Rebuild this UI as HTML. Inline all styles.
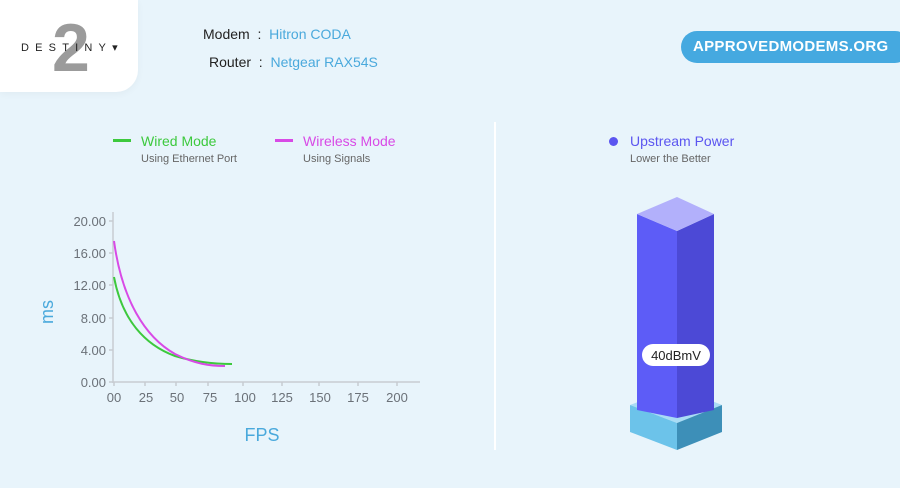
<!DOCTYPE html>
<html><head><meta charset="utf-8"><style>
body{margin:0;width:900px;height:488px;background:#e8f4fb;font-family:"Liberation Sans",sans-serif;overflow:hidden;position:relative}
.a{position:absolute;white-space:nowrap}
</style></head><body>
<div class="a" style="left:0;top:0;width:138px;height:92px;background:#fff;border-bottom-right-radius:22px;box-shadow:0 2px 8px rgba(0,0,0,0.04)"></div>
<div class="a" style="left:52px;top:14px;font-size:68px;font-weight:bold;color:#9b9b9b;line-height:68px">2</div>
<div class="a" style="left:21px;top:41px;font-size:11px;letter-spacing:6.2px;color:#222">DESTINY<span style="letter-spacing:0">▾</span></div>
<div class="a" style="left:203px;top:26px;font-size:14px;color:#222">Modem&nbsp; :&nbsp; <span style="color:#4aa9dc">Hitron CODA</span></div>
<div class="a" style="left:209px;top:54px;font-size:14px;color:#222">Router&nbsp; :&nbsp; <span style="color:#4aa9dc">Netgear RAX54S</span></div>
<div class="a" style="left:681px;top:31px;width:230px;height:32px;background:#45a9e0;border-radius:16px"></div>
<div class="a" style="left:693px;top:38px;font-size:15px;font-weight:bold;color:#fff;letter-spacing:0.3px">APPROVEDMODEMS.ORG</div>

<div class="a" style="left:113px;top:139px;width:18px;height:3px;background:#3dc93d"></div>
<div class="a" style="left:141px;top:133px;font-size:14px;color:#3dc93d">Wired Mode</div>
<div class="a" style="left:141px;top:153px;font-size:11px;color:#666">Using Ethernet Port</div>
<div class="a" style="left:275px;top:139px;width:18px;height:3px;background:#d84ae6"></div>
<div class="a" style="left:303px;top:133px;font-size:14px;color:#d84ae6">Wireless Mode</div>
<div class="a" style="left:303px;top:153px;font-size:11px;color:#666">Using Signals</div>

<div class="a" style="left:609px;top:137px;width:9px;height:9px;border-radius:50%;background:#5b55f0"></div>
<div class="a" style="left:630px;top:133px;font-size:14px;color:#5b55f0">Upstream Power</div>
<div class="a" style="left:630px;top:153px;font-size:11px;color:#666">Lower the Better</div>

<div class="a" style="left:494px;top:122px;width:2px;height:328px;background:#fff"></div>

<svg class="a" style="left:0;top:0" width="900" height="488">
<g stroke="#c7ccd2" stroke-width="1.5" fill="none">
<line x1="113" y1="212" x2="113" y2="383"/>
<line x1="113" y1="382" x2="420" y2="382"/>
<g>
<line x1="109" y1="221" x2="113" y2="221"/><line x1="109" y1="253" x2="113" y2="253"/><line x1="109" y1="285" x2="113" y2="285"/><line x1="109" y1="318" x2="113" y2="318"/><line x1="109" y1="350" x2="113" y2="350"/><line x1="109" y1="382" x2="113" y2="382"/>
<line x1="114" y1="382" x2="114" y2="386"/><line x1="145" y1="382" x2="145" y2="386"/><line x1="176" y1="382" x2="176" y2="386"/><line x1="208" y1="382" x2="208" y2="386"/><line x1="243" y1="382" x2="243" y2="386"/><line x1="282" y1="382" x2="282" y2="386"/><line x1="319" y1="382" x2="319" y2="386"/><line x1="358" y1="382" x2="358" y2="386"/><line x1="397" y1="382" x2="397" y2="386"/>
</g></g>
<g font-size="13" fill="#6b7178" text-anchor="end">
<text x="106" y="226">20.00</text><text x="106" y="258">16.00</text><text x="106" y="290">12.00</text><text x="106" y="323">8.00</text><text x="106" y="355">4.00</text><text x="106" y="387">0.00</text>
</g>
<g font-size="13" fill="#6b7178" text-anchor="middle">
<text x="114" y="402">00</text><text x="146" y="402">25</text><text x="177" y="402">50</text><text x="210" y="402">75</text><text x="245" y="402">100</text><text x="282" y="402">125</text><text x="320" y="402">150</text><text x="358" y="402">175</text><text x="397" y="402">200</text>
</g>
<text x="262" y="441" font-size="18" fill="#4aa9dc" text-anchor="middle">FPS</text>
<text transform="translate(53,312) rotate(-90)" font-size="18" fill="#4aa9dc" text-anchor="middle">ms</text>
<path d="M114,277 C122,320 145,345 175,356 C195,362 215,364 232,364" stroke="#3dc93d" stroke-width="2" fill="none"/>
<path d="M114,241 C122,300 145,337 175,354 C195,364 210,366 225,366" stroke="#d84ae6" stroke-width="2" fill="none"/>

<polygon points="630,405 677,387 722,405 677,423" fill="#a9dcf5"/>
<polygon points="630,405 677,423 677,450 630,432" fill="#6cc3ea"/>
<polygon points="677,423 722,405 722,432 677,450" fill="#3d8fb8"/>
<polygon points="637,214 677,231 677,418 637,410" fill="#5d5cf7"/>
<polygon points="677,231 714,214 714,410 677,418" fill="#4c49d6"/>
<polygon points="637,214 677,197 714,214 677,231" fill="#b2b0fb"/>
<rect x="642" y="344" width="68" height="22" rx="11" fill="#fff"/>
<text x="676" y="360" font-size="13" fill="#222" text-anchor="middle">40dBmV</text>
</svg>
</body></html>
